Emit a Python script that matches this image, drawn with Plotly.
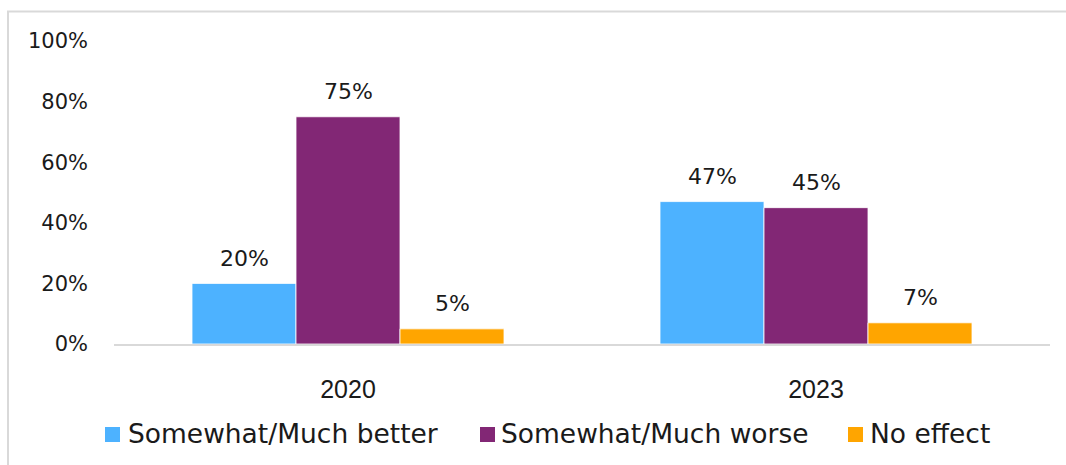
import plotly.graph_objects as go

# Survey results by year
years = ["2020", "2023"]
series_names = ["Somewhat/Much better", "Somewhat/Much worse", "No effect"]
better = [20, 47]
worse = [75, 45]
no_effect = [5, 7]
series_values = [better, worse, no_effect]
y_ticks = [0, 20, 40, 60, 80, 100]

colors = ["#4DB2FF", "#822775", "#FFA500"]

W, H = 1066, 465
ML, MR, MT, MB = 114, 16, 41, 121
plot_w = W - ML - MR
plot_h = H - MT - MB
BARGAP = 1 / 3

fig = go.Figure()
for name, vals, col in zip(series_names, series_values, colors):
    fig.add_trace(go.Bar(
        x=years, y=vals, name=name,
        marker=dict(color=col, line=dict(color="rgba(255,255,255,0.8)", width=1)),
        showlegend=False,
    ))

# value labels above each bar (category positions given by index)
cat_w = plot_w / len(years)
bar_w = cat_w * (1 - BARGAP) / len(series_names)
for i, vals in enumerate(series_values):
    shift = (i - (len(series_names) - 1) / 2) * bar_w
    for k, v in enumerate(vals):
        fig.add_annotation(
            x=k, y=v, text=f"{v}%", showarrow=False,
            xshift=shift, yshift=25, yanchor="middle",
            font=dict(family="DejaVu Sans", size=22, color="#1a1a1a"),
        )


def px_x(px):
    return (px - ML) / plot_w


def px_y(py):
    return (H - MB - py) / plot_h


# legend drawn as swatches + labels
legend_items = [(105, 126), (480, 499), (848, 868)]
for (sx, tx), name, col in zip(legend_items, series_names, colors):
    fig.add_shape(type="rect", xref="paper", yref="paper",
                  x0=px_x(sx), x1=px_x(sx + 15), y0=px_y(427), y1=px_y(442),
                  fillcolor=col, line=dict(width=0))
    fig.add_annotation(xref="paper", yref="paper", x=px_x(tx), y=px_y(433),
                       text=name, showarrow=False, xanchor="left", yanchor="middle",
                       font=dict(family="DejaVu Sans", size=26.5, color="#1a1a1a"))

# chart frame
fig.add_shape(type="rect", xref="paper", yref="paper",
              x0=px_x(8), x1=px_x(W + 40), y0=px_y(H + 40), y1=px_y(11.5),
              line=dict(color="#d9d9d9", width=2), fillcolor="rgba(0,0,0,0)", layer="below")

fig.update_layout(
    width=W, height=H,
    margin=dict(l=ML, r=MR, t=MT, b=MB, pad=0),
    barmode="group", bargap=BARGAP, bargroupgap=0,
    plot_bgcolor="white", paper_bgcolor="white",
    xaxis=dict(
        type="category", range=[-0.5, len(years) - 0.5],
        showgrid=False, showline=True, linecolor="#d9d9d9", linewidth=2,
        ticks="", ticklabelstandoff=22,
        tickfont=dict(family="Liberation Sans", size=25, color="#1a1a1a"),
    ),
    yaxis=dict(
        range=[0, 100], tickvals=y_ticks, ticktext=[f"{t}%" for t in y_ticks],
        showgrid=False, zeroline=False, showline=False, ticks="", ticklabelstandoff=25,
        tickfont=dict(family="DejaVu Sans", size=21, color="#1a1a1a"),
    ),
)

fig.write_html("out.html")
